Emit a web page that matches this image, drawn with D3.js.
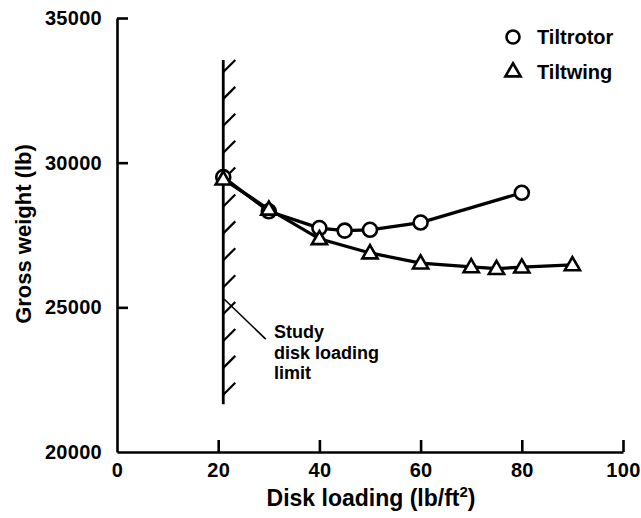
<!DOCTYPE html>
<html>
<head>
<meta charset="utf-8">
<script src="https://cdn.jsdelivr.net/npm/d3@7"></script>
<style>
  body { margin: 0; background: #fff; }
  svg { display: block; }
  text { font-family: "Liberation Sans", Arial, Helvetica, sans-serif; font-weight: bold; fill: #000; }
</style>
</head>
<body>
<div id="chart"></div>
<script>
var w = 641, h = 518

// data
var rotorLoading = [21, 30, 40, 45, 50, 60, 80]
var rotorWeight  = [29500, 28320, 27740, 27650, 27680, 27930, 28960]
var wingLoading  = [21, 30, 40, 50, 60, 70, 75, 80, 90]
var wingWeight   = [29430, 28390, 27370, 26880, 26530, 26400, 26340, 26390, 26470]
var xTicks = [0, 20, 40, 60, 80, 100]
var yTicks = [20000, 25000, 30000, 35000]
var limitLoading = 21
var limitWeights = [21650, 33550]
var noteLabel = ["Study", "disk loading", "limit"]
var seriesNames = ["Tiltrotor", "Tiltwing"]

var svg = d3.select("#chart")
	.append("svg")
	.attr("width", w)
	.attr("height", h)

var x = d3.scaleLinear().domain([0, 100]).range([117, 623])
var y = d3.scaleLinear().domain([20000, 35000]).range([452, 18])

// axes
var xAxis = d3.axisBottom(x).tickValues(xTicks).tickSizeInner(-12).tickSizeOuter(0).tickPadding(11)
var yAxis = d3.axisLeft(y).tickValues(yTicks).tickFormat(d3.format("d")).tickSizeInner(-11).tickSizeOuter(0).tickPadding(15)

var gx = svg.append("g").attr("transform", "translate(0," + y(20000) + ")").call(xAxis)
var gy = svg.append("g").attr("transform", "translate(" + x(0) + ",0)").call(yAxis)

gx.selectAll(".tick").filter(function(d) { return d === 0 }).select("line").remove()
gy.selectAll(".tick").filter(function(d) { return d === 20000 }).select("line").remove()

svg.selectAll(".domain, .tick line").attr("stroke", "#000").attr("stroke-width", 2.6)
svg.selectAll(".tick text").attr("font-size", 20).attr("font-family", null).attr("letter-spacing", 0.3)

// axis titles
svg.append("text")
	.attr("x", 371).attr("y", 506)
	.attr("text-anchor", "middle")
	.attr("font-size", 23)
	.text("Disk loading (lb/ft")
	.append("tspan").attr("dy", -9).attr("font-size", 15).text("2")
	.select(function() { return this.parentNode })
	.append("tspan").attr("dy", 9).text(")")

svg.append("text")
	.attr("transform", "translate(31," + 234 + ") rotate(-90)")
	.attr("text-anchor", "middle")
	.attr("font-size", 22)
	.text("Gross weight (lb)")

// study disk loading limit, hatched
var limX = x(limitLoading)
svg.append("line")
	.attr("x1", limX).attr("x2", limX)
	.attr("y1", y(limitWeights[1])).attr("y2", y(limitWeights[0]))
	.attr("stroke", "#000").attr("stroke-width", 2.8)

var hatchY = d3.range(y(limitWeights[1]) + 12, y(limitWeights[0]) - 8, 26.9)
svg.selectAll(".hatch")
	.data(hatchY)
	.enter()
	.append("line")
	.attr("x1", limX).attr("y1", function(d) { return d })
	.attr("x2", limX + 12).attr("y2", function(d) { return d - 12 })
	.attr("stroke", "#000").attr("stroke-width", 2.2)

// leader + note
svg.append("line")
	.attr("x1", x(21.2)).attr("y1", y(25280))
	.attr("x2", x(29.4)).attr("y2", y(23900))
	.attr("stroke", "#000").attr("stroke-width", 1.6)

svg.append("g").selectAll("text")
	.data(noteLabel)
	.enter()
	.append("text")
	.attr("x", 274)
	.attr("y", function(d, i) { return 338 + i * 20.5 })
	.attr("font-size", 18)
	.text(function(d) { return d })

// series lines
var rotor = rotorLoading.map(function(d, i) { return [d, rotorWeight[i]] })
var wing = wingLoading.map(function(d, i) { return [d, wingWeight[i]] })

var line = d3.line()
	.x(function(d) { return x(d[0]) })
	.y(function(d) { return y(d[1]) })

svg.append("path").attr("d", line(wing)).attr("fill", "none").attr("stroke", "#000").attr("stroke-width", 3.2)
svg.append("path").attr("d", line(rotor)).attr("fill", "none").attr("stroke", "#000").attr("stroke-width", 3.2)

var tri = d3.symbol().type(d3.symbolTriangle).size(100)

svg.selectAll(".circ")
	.data(rotor)
	.enter()
	.append("circle")
	.attr("cx", function(d) { return x(d[0]) })
	.attr("cy", function(d) { return y(d[1]) })
	.attr("r", 7)
	.attr("fill", "#fff").attr("stroke", "#000").attr("stroke-width", 2.6)

svg.selectAll(".tri")
	.data(wing)
	.enter()
	.append("path")
	.attr("d", tri)
	.attr("transform", function(d) { return "translate(" + x(d[0]) + "," + (y(d[1]) + 1) + ")" })
	.attr("fill", "#fff").attr("stroke", "#000").attr("stroke-width", 2.6)

// legend
var leg = svg.append("g")
leg.append("circle").attr("cx", 513).attr("cy", 37).attr("r", 6.5)
	.attr("fill", "#fff").attr("stroke", "#000").attr("stroke-width", 2.6)
leg.append("path").attr("d", tri).attr("transform", "translate(513,72)")
	.attr("fill", "#fff").attr("stroke", "#000").attr("stroke-width", 2.6)
leg.selectAll("text")
	.data(seriesNames)
	.enter()
	.append("text")
	.attr("x", 537)
	.attr("y", function(d, i) { return 44 + i * 35 })
	.attr("font-size", 20)
	.text(function(d) { return d })
</script>
</body>
</html>
